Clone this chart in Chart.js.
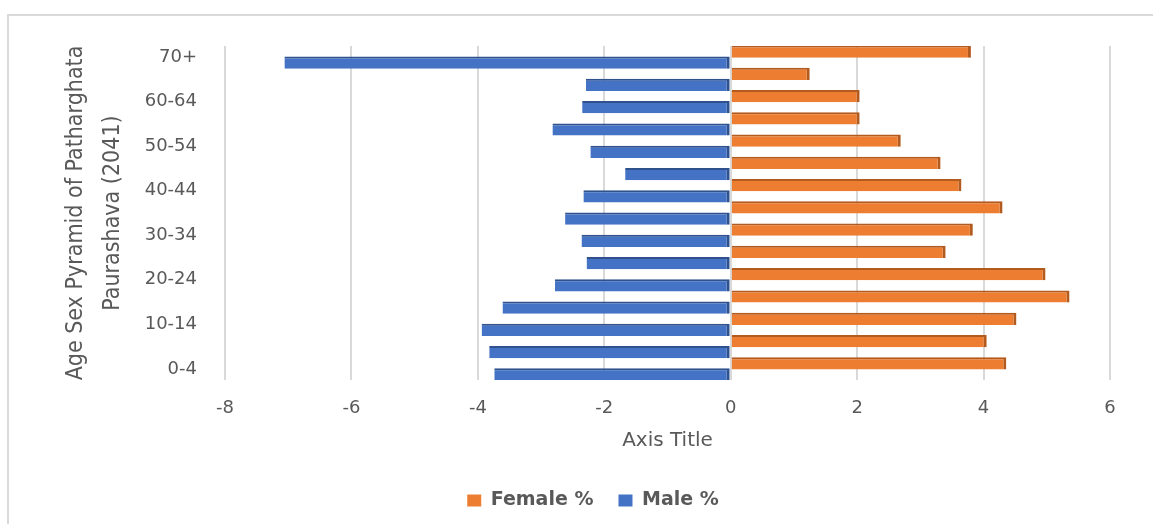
<!DOCTYPE html>
<html>
<head>
<meta charset="utf-8">
<script src="https://cdn.jsdelivr.net/npm/chart.js@4.4.1/dist/chart.umd.min.js"></script>
<style>
    html, body { margin: 0; padding: 0; background: #fff; }
    #frame {
        position: absolute; left: 7px; top: 14px; right: 0; bottom: 0;
        border-top: 2px solid #d9d9d9; border-left: 2px solid #d9d9d9;
    }
    #pyramid { position: absolute; left: 0; top: 0; }
</style>
</head>
<body>
<div id="frame"></div>
<canvas id="pyramid" width="1153" height="524"></canvas>
<script>
const ageGroups = ['0-4', '5-9', '10-14', '15-19', '20-24', '25-29', '30-34', '35-39',
    '40-44', '45-49', '50-54', '55-59', '60-64', '65-69', '70+'];
const femalePct = [4.36, 4.05, 4.52, 5.36, 4.98, 3.40, 3.83, 4.30,
    3.65, 3.32, 2.69, 2.04, 2.04, 1.25, 3.80];
const malePct = [-3.74, -3.82, -3.94, -3.61, -2.78, -2.28, -2.36, -2.62,
    -2.33, -1.67, -2.22, -2.82, -2.35, -2.29, -7.06];
const xTicks = { min: -8, max: 6, step: 2 };

const textGray = '#595959';
const wideFont = 'DejaVu Sans, sans-serif';

function setupPyramid() {
    let ctx = document.getElementById('pyramid').getContext('2d');
    return new Chart(ctx, {
        type: 'bar',
        data: {
            labels: ageGroups,
            datasets: [{
                label: 'Female %',
                data: femalePct,
                backgroundColor: '#ed7d31',
                borderColor: '#b35a1f',
                borderWidth: { top: 2, right: 3, bottom: 0, left: 0 },
                borderSkipped: false
            },
            {
                label: 'Male %',
                data: malePct,
                backgroundColor: '#4472c4',
                borderColor: '#2f528f',
                borderWidth: { top: 2, right: 3, bottom: 0, left: 0 },
                borderSkipped: false
            }]
        },
        options: {
            indexAxis: 'y',
            responsive: false,
            animation: false,
            categoryPercentage: 1.0,
            barPercentage: 1.1,
            layout: {
                // left padding is wide so the legend centres like the original
                padding: { left: 76, right: 43, top: 46, bottom: 4 }
            },
            scales: {
                x: {
                    min: xTicks.min,
                    max: xTicks.max,
                    afterFit: function (scale) {
                        scale.height = 86;
                    },
                    ticks: {
                        stepSize: xTicks.step,
                        color: textGray,
                        padding: 18,
                        font: { family: wideFont, size: 18 }
                    },
                    grid: {
                        color: '#d9d9d9',
                        lineWidth: 2,
                        drawTicks: false
                    },
                    border: { display: false },
                    title: {
                        display: true,
                        text: 'Axis Title',
                        color: textGray,
                        padding: { top: 4, bottom: 13 },
                        font: { family: wideFont, size: 20 }
                    }
                },
                y: {
                    reverse: true,
                    afterFit: function (scale) {
                        scale.width = 149;
                    },
                    ticks: {
                        autoSkip: false,
                        color: textGray,
                        padding: 28,
                        font: { family: wideFont, size: 18 },
                        callback: function (value, index) {
                            return index % 2 === 0 ? this.getLabelForValue(value) : '';
                        }
                    },
                    grid: { display: false, drawTicks: false },
                    border: { display: false },
                    title: {
                        display: true,
                        text: ['Age Sex Pyramid of Patharghata', 'Paurashava (2041)'],
                        color: textGray,
                        padding: { top: -18, bottom: 0 },
                        font: { family: 'DejaVu Sans Condensed, sans-serif', size: 23, lineHeight: 1.6 }
                    }
                }
            },
            plugins: {
                legend: {
                    position: 'bottom',
                    labels: {
                        color: textGray,
                        boxWidth: 14,
                        boxHeight: 12,
                        padding: 25,
                        font: { family: wideFont, size: 19, weight: 'bold' },
                        generateLabels: function (chart) {
                            return Chart.defaults.plugins.legend.labels.generateLabels(chart).map(function (item) {
                                item.lineWidth = 0;
                                item.strokeStyle = item.fillStyle;
                                return item;
                            });
                        }
                    }
                },
                tooltip: { enabled: false }
            }
        }
    });
}

setupPyramid();
</script>
</body>
</html>
